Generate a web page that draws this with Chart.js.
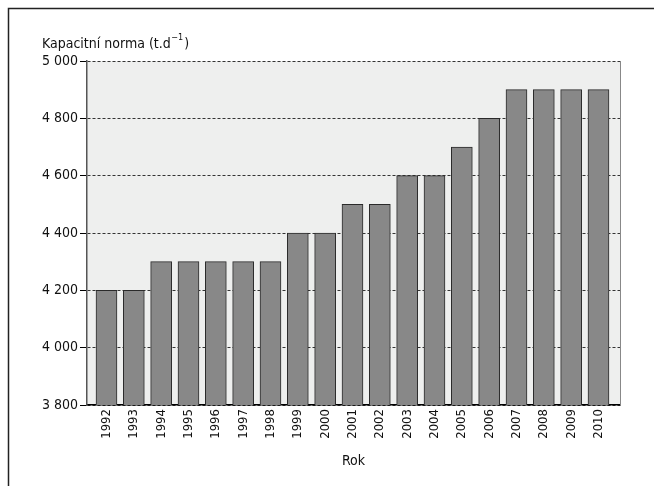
<!DOCTYPE html>
<html><head><meta charset="utf-8">
<script src="https://cdn.jsdelivr.net/npm/chart.js@4"></script>
<style>html,body{margin:0;padding:0;background:#fff;}canvas{display:block;}</style>
</head><body>
<canvas id="c" width="654" height="486"></canvas>
<script>
const years = ['1992','1993','1994','1995','1996','1997','1998','1999','2000','2001','2002','2003','2004','2005','2006','2007','2008','2009','2010'];
const capacity = [4200,4200,4300,4300,4300,4300,4300,4400,4400,4500,4500,4600,4600,4700,4800,4900,4900,4900,4900];
const yMin = 3800, yMax = 5000, yStep = 200;
const yTitleMain = 'Kapacitní norma (t.d';
const yTitleSup = '\u22121';
const yTitleEnd = ')';
const xTitle = 'Rok';
const FONT = "'Liberation Sans Narrow', 'Arial Narrow', 'DejaVu Sans Condensed', sans-serif";

const points = years.map((y, i) => ({ x: i, y: capacity[i] }));

const decor = {
  id: 'decor',
  beforeDraw(chart) {
    const {ctx, chartArea: a} = chart;
    ctx.save();
    ctx.fillStyle = '#eeefee';
    ctx.fillRect(a.left, a.top, a.right - a.left, a.bottom - a.top);
    ctx.restore();
  },
  afterDraw(chart) {
    const {ctx, chartArea: a} = chart;
    ctx.save();
    ctx.strokeStyle = '#888';
    ctx.lineWidth = 1;
    ctx.beginPath();
    ctx.moveTo(a.right + 0.5, a.top);
    ctx.lineTo(a.right + 0.5, a.bottom);
    ctx.stroke();
    ctx.strokeStyle = '#222';
    ctx.lineWidth = 1.5;
    ctx.beginPath();
    ctx.moveTo(8.5, 486);
    ctx.lineTo(8.5, 8.5);
    ctx.lineTo(654, 8.5);
    ctx.stroke();
    ctx.fillStyle = '#111';
    ctx.textBaseline = 'alphabetic';
    ctx.textAlign = 'left';
    ctx.font = '14px ' + FONT;
    let x = 42, y = 48;
    ctx.fillText(yTitleMain, x, y);
    x += ctx.measureText(yTitleMain).width;
    ctx.font = '9px ' + FONT;
    ctx.fillText(yTitleSup, x + 0.5, y - 8);
    x += ctx.measureText(yTitleSup).width + 1.5;
    ctx.font = '14px ' + FONT;
    ctx.fillText(yTitleEnd, x, y);
    ctx.restore();
  }
};

new Chart(document.getElementById('c'), {
  type: 'bar',
  data: {
    datasets: [{
      data: points,
      backgroundColor: '#888888',
      borderColor: '#2a2a2a',
      borderWidth: 1,
      barThickness: 21
    }]
  },
  options: {
    responsive: false,
    animation: false,
    devicePixelRatio: 1,
    layout: { padding: { left: 0, top: 61, right: 34, bottom: 0 } },
    plugins: { legend: { display: false }, tooltip: { enabled: false }, title: { display: false } },
    scales: {
      x: {
        type: 'linear',
        min: -0.713, max: 18.787,
        offset: false,
        grid: { display: false, drawTicks: false, tickLength: 0 },
        border: { display: true, color: '#000', width: 1.5 },
        ticks: {
          stepSize: 1, includeBounds: false, autoSkip: false,
          minRotation: 90, maxRotation: 90,
          color: '#111', font: { family: FONT, size: 13 }, padding: 4,
          callback(v) { return Number.isInteger(v) && years[v] ? years[v] : ''; }
        },
        title: { display: true, text: xTitle, color: '#111', font: { family: FONT, size: 14 }, padding: { top: 0, bottom: 16 } },
        afterFit(scale) { scale.height = 81; }
      },
      y: {
        min: yMin, max: yMax,
        grid: { color: '#333', lineWidth: 1, tickLength: 7, tickColor: '#000', tickBorderDash: [], tickWidth: 1 },
        border: { display: true, color: '#555', width: 1.5, dash: [3, 2] },
        ticks: {
          stepSize: yStep, color: '#111', padding: 2,
          font: { family: FONT, size: 14 },
          callback(v) { return String(v).replace(/\B(?=(\d{3})+(?!\d))/g, ' '); }
        },
        afterFit(scale) { scale.width = 87; }
      }
    }
  },
  plugins: [decor]
});
</script>
</body></html>
